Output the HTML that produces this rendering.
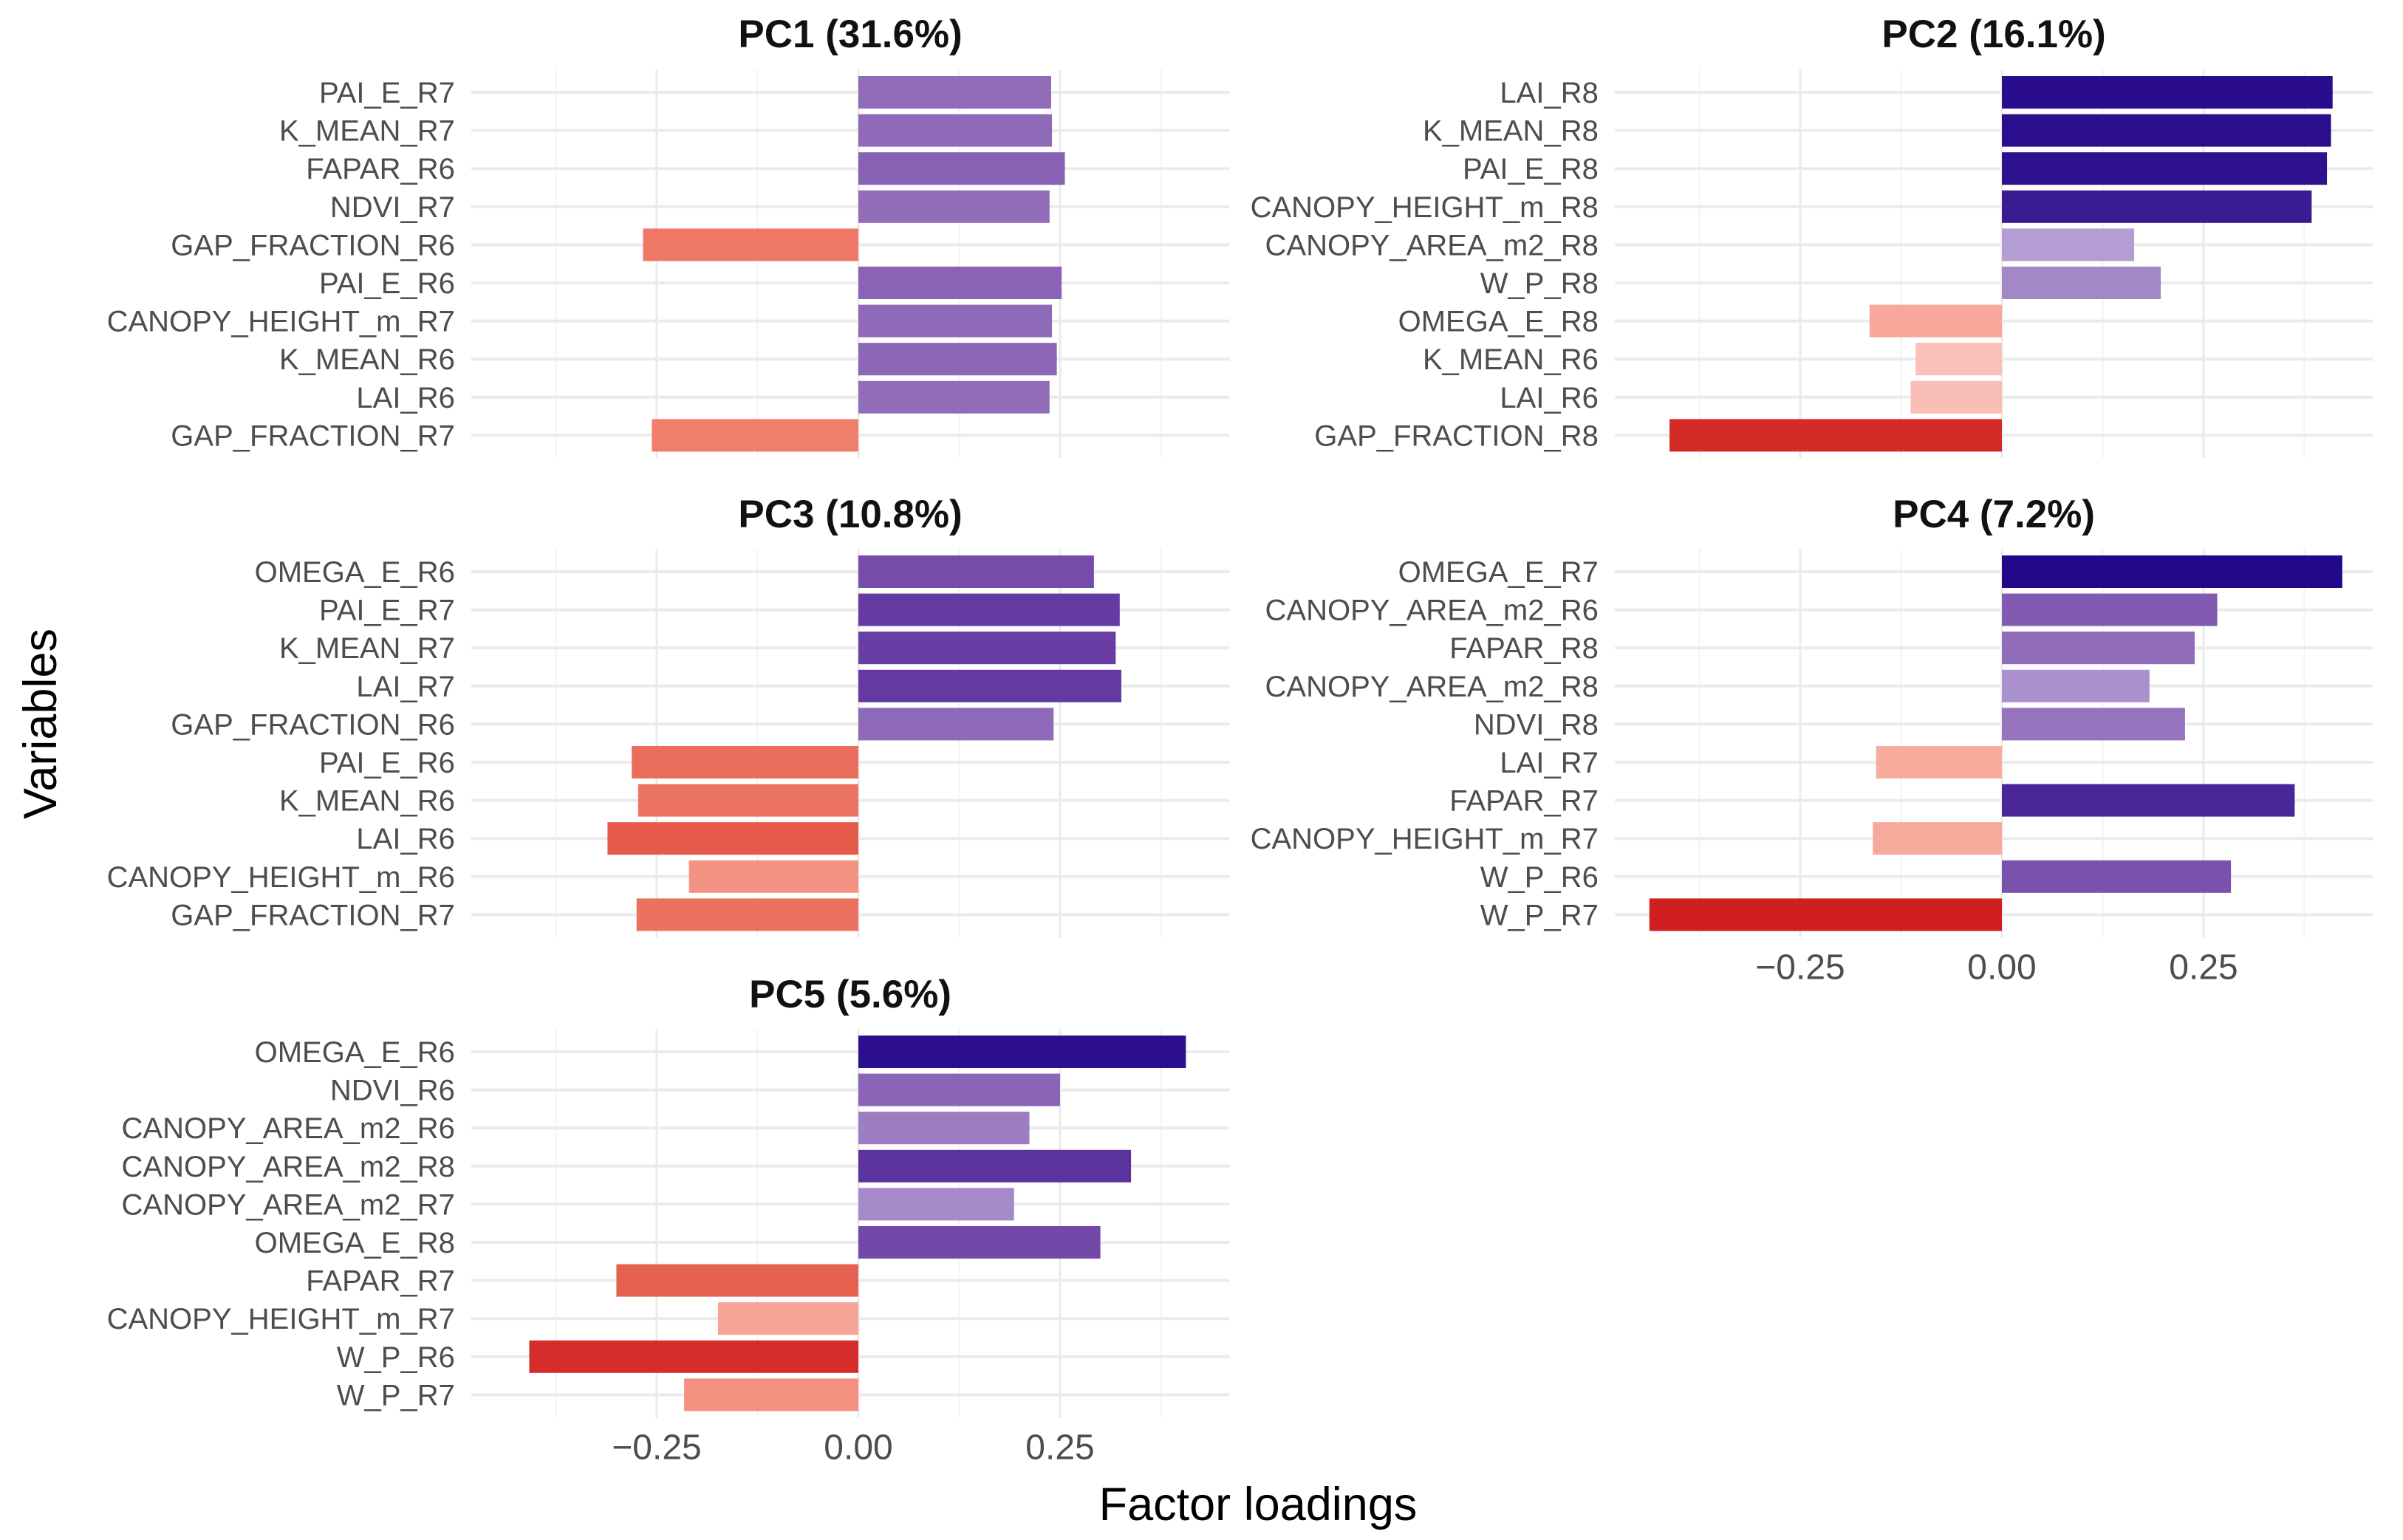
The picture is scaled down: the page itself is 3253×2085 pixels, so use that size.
<!DOCTYPE html>
<html><head><meta charset="utf-8"><style>
html,body{margin:0;padding:0;background:#fff;}
svg{display:block;font-family:"Liberation Sans",sans-serif;}
</style></head><body>
<svg id="chart" width="3253" height="2085" viewBox="0 0 3253 2085"></svg>
<script>
const pcTitles = ["PC1 (31.6%)","PC2 (16.1%)","PC3 (10.8%)","PC4 (7.2%)","PC5 (5.6%)"];
const pc1Vars = ["PAI_E_R7","K_MEAN_R7","FAPAR_R6","NDVI_R7","GAP_FRACTION_R6","PAI_E_R6","CANOPY_HEIGHT_m_R7","K_MEAN_R6","LAI_R6","GAP_FRACTION_R7"];
const pc1Vals = [0.239,0.240,0.256,0.237,-0.267,0.252,0.240,0.246,0.237,-0.256];
const pc2Vars = ["LAI_R8","K_MEAN_R8","PAI_E_R8","CANOPY_HEIGHT_m_R8","CANOPY_AREA_m2_R8","W_P_R8","OMEGA_E_R8","K_MEAN_R6","LAI_R6","GAP_FRACTION_R8"];
const pc2Vals = [0.410,0.408,0.403,0.384,0.164,0.197,-0.164,-0.107,-0.113,-0.412];
const pc3Vars = ["OMEGA_E_R6","PAI_E_R7","K_MEAN_R7","LAI_R7","GAP_FRACTION_R6","PAI_E_R6","K_MEAN_R6","LAI_R6","CANOPY_HEIGHT_m_R6","GAP_FRACTION_R7"];
const pc3Vals = [0.292,0.324,0.319,0.326,0.242,-0.281,-0.273,-0.311,-0.210,-0.275];
const pc4Vars = ["OMEGA_E_R7","CANOPY_AREA_m2_R6","FAPAR_R8","CANOPY_AREA_m2_R8","NDVI_R8","LAI_R7","FAPAR_R7","CANOPY_HEIGHT_m_R7","W_P_R6","W_P_R7"];
const pc4Vals = [0.422,0.267,0.239,0.183,0.227,-0.156,0.363,-0.160,0.284,-0.437];
const pc5Vars = ["OMEGA_E_R6","NDVI_R6","CANOPY_AREA_m2_R6","CANOPY_AREA_m2_R8","CANOPY_AREA_m2_R7","OMEGA_E_R8","FAPAR_R7","CANOPY_HEIGHT_m_R7","W_P_R6","W_P_R7"];
const pc5Vals = [0.406,0.250,0.212,0.338,0.193,0.300,-0.300,-0.174,-0.408,-0.216];
const tickVals = [-0.25,0,0.25];
const tickLabels = ["\u22120.25","0.00","0.25"];
const minorVals = [-0.375,-0.125,0.125,0.375];

const NS="http://www.w3.org/2000/svg";
const svg=document.getElementById('chart');
function mk(tag,attrs,parent){const e=document.createElementNS(NS,tag);for(const k in attrs)e.setAttribute(k,attrs[k]);(parent||svg).appendChild(e);return e;}

const panels=[
 {vars:pc1Vars,vals:pc1Vals,zero:1162,top:125,titleY:64,ticks:false},
 {vars:pc2Vars,vals:pc2Vals,zero:2710,top:125,titleY:64,ticks:false},
 {vars:pc3Vars,vals:pc3Vals,zero:1162,top:774,titleY:714,ticks:false},
 {vars:pc4Vars,vals:pc4Vals,zero:2710,top:774,titleY:714,ticks:true},
 {vars:pc5Vars,vals:pc5Vals,zero:1162,top:1424,titleY:1364,ticks:true}
];
const unit=1092, step=51.6, barH=44;

const posStops=[[0.15,[186,166,216]],[0.24,[143,106,184]],[0.32,[104,60,164]],[0.42,[34,8,138]]];
const negStops=[[0.10,[249,196,188]],[0.16,[247,170,156]],[0.26,[239,124,106]],[0.31,[229,90,74]],[0.44,[208,30,30]]];
function interp(stops,a){
 if(a<=stops[0][0])return stops[0][1];
 for(let i=1;i<stops.length;i++){if(a<=stops[i][0]){const t=(a-stops[i-1][0])/(stops[i][0]-stops[i-1][0]);return stops[i-1][1].map((c,j)=>Math.round(c+(stops[i][1][j]-c)*t));}}
 return stops[stops.length-1][1];
}
function color(v){const c=v>=0?interp(posStops,v):interp(negStops,-v);return `rgb(${c[0]},${c[1]},${c[2]})`;}

panels.forEach((p,pi)=>{
 const g=mk('g',{});
 
 
 const x=v=>p.zero+v*unit;
 const y=i=>p.top+i*step;
 const left=x(-0.48), right=x(0.46);
 const gTop=y(0)-step*0.6, gBot=y(p.vars.length-1)+step*0.6;
 minorVals.forEach(v=>{const l=mk('line',{x1:x(v),x2:x(v),y1:gTop,y2:gBot,stroke:'#f3f3f3','stroke-width':2},g);});
 tickVals.forEach(v=>{const l=mk('line',{x1:x(v),x2:x(v),y1:gTop,y2:gBot,stroke:'#ebebeb','stroke-width':3},g);});
 p.vars.forEach((n,i)=>{const l=mk('line',{x1:left,x2:right,y1:y(i),y2:y(i),stroke:'#ebebeb','stroke-width':4},g);});
 p.vals.forEach((v,i)=>{
  const r=mk('rect',{x:Math.min(x(0),x(v)),y:y(i)-barH/2,width:Math.abs(x(v)-x(0)),height:barH,fill:color(v)},g);
  
  
  const t=mk('text',{x:left-22,y:y(i)+14,'text-anchor':'end','font-size':40,fill:'#4d4d4d'},g);
  t.textContent=p.vars[i];
  
  
 });
 const tt=mk('text',{x:(left+right)/2,y:p.titleY,'text-anchor':'middle','font-size':53,'font-weight':'bold',fill:'#111'},g);
 tt.textContent=pcTitles[pi];
 
 
 if(p.ticks){tickVals.forEach((v,k)=>{const t=mk('text',{x:x(v),y:gBot+56,'text-anchor':'middle','font-size':48,fill:'#4d4d4d'},g);t.textContent=tickLabels[k];});}
});
const xl=mk('text',{x:1703,y:2058,'text-anchor':'middle','font-size':63,fill:'#000'});
xl.textContent='Factor loadings';


const yl=mk('text',{x:0,y:0,'text-anchor':'middle','font-size':63,fill:'#000',transform:'translate(76,980) rotate(-90)'});
yl.textContent='Variables';


</script>
</body></html>
